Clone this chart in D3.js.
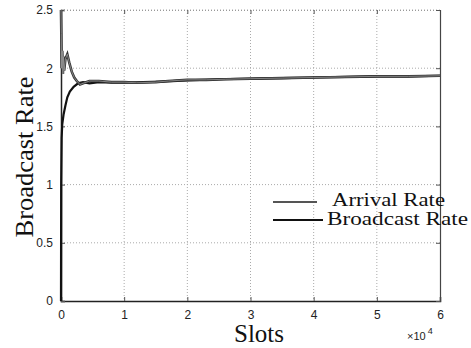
<!DOCTYPE html>
<html>
<head>
<meta charset="utf-8">
<script src="https://cdn.jsdelivr.net/npm/d3@7"></script>
<style>
  html, body { margin: 0; padding: 0; background: #fff; }
  svg { display: block; }
</style>
</head>
<body>
<svg id="chart" width="471" height="348"></svg>
<script>
// slots in units of 1e4
const arrivalX = [0, 0.005, 0.01, 0.02, 0.03, 0.04, 0.05, 0.07, 0.1, 0.13, 0.17, 0.21, 0.25, 0.3, 0.35, 0.45, 0.6, 0.8, 1.0, 1.2, 1.5, 1.7, 2.0, 2.3, 2.6, 3.0, 3.5, 4.0, 4.5, 5.0, 5.5, 6.0];
const arrivalY = [2.5, 2.3, 2.0, 2.15, 1.95, 2.1, 1.98, 2.08, 2.12, 2.05, 1.97, 1.92, 1.89, 1.86, 1.87, 1.89, 1.89, 1.88, 1.88, 1.875, 1.88, 1.89, 1.9, 1.9, 1.905, 1.91, 1.915, 1.92, 1.925, 1.93, 1.93, 1.935];
const broadcastX = [0, 0.003, 0.01, 0.02, 0.04, 0.07, 0.1, 0.14, 0.2, 0.27, 0.35, 0.45, 0.6, 0.8, 1.0, 1.3, 1.6, 2.0, 2.5, 3.0, 3.5, 4.0, 4.5, 5.0, 5.5, 6.0];
const broadcastY = [0, 1.0, 1.4, 1.52, 1.6, 1.68, 1.75, 1.8, 1.84, 1.87, 1.88, 1.87, 1.88, 1.875, 1.875, 1.88, 1.885, 1.895, 1.905, 1.91, 1.915, 1.92, 1.925, 1.93, 1.93, 1.935];
const xTicks = [0, 1, 2, 3, 4, 5, 6];
const yTicks = [0, 0.5, 1, 1.5, 2, 2.5];
const legendLabels = ['Arrival Rate', 'Broadcast Rate'];

const svg = d3.select('#chart');
const pLeft = 61, pRight = 440, pTop = 10, pBottom = 301;

const x = d3.scaleLinear().domain([0, 6]).range([pLeft, pRight]);
const y = d3.scaleLinear().domain([0, 2.5]).range([pBottom, pTop]);

// grid
const grid = svg.append('g').attr('stroke', '#aaa').attr('stroke-dasharray', '1,2').attr('stroke-width', 1);
xTicks.slice(1, -1).forEach(function(t) {
  grid.append('line').attr('x1', x(t)).attr('x2', x(t)).attr('y1', pTop).attr('y2', pBottom);
});
yTicks.slice(1).forEach(function(t) {
  grid.append('line').attr('x1', pLeft).attr('x2', pRight).attr('y1', y(t)).attr('y2', y(t));
});

// axes (ticks inward)
const fmt = d3.format('~g');
const tickFont = 'Liberation Sans, Arial, sans-serif';
const xAxis = svg.append('g').attr('transform', 'translate(0,' + pBottom + ')')
  .call(d3.axisBottom(x).tickValues(xTicks).tickSize(-4).tickPadding(9).tickFormat(fmt));
const yAxis = svg.append('g').attr('transform', 'translate(' + pLeft + ',0)')
  .call(d3.axisLeft(y).tickValues(yTicks).tickSize(-4).tickPadding(8).tickFormat(fmt));
const xTop = svg.append('g').attr('transform', 'translate(0,' + pTop + ')')
  .call(d3.axisTop(x).tickValues(xTicks).tickSize(-4).tickFormat(''));
const yRight = svg.append('g').attr('transform', 'translate(' + pRight + ',0)')
  .call(d3.axisRight(y).tickValues(yTicks).tickSize(-4).tickFormat(''));

[xAxis, yAxis, xTop, yRight].forEach(function(a) {
  a.selectAll('text').attr('font-family', tickFont).attr('font-size', 12).attr('fill', '#222');
  a.selectAll('.tick line').attr('stroke', '#555');
});
xAxis.select('.domain').attr('stroke', '#222').attr('stroke-width', 1.5);
yAxis.select('.domain').attr('stroke', '#222').attr('stroke-width', 1.5);
yRight.select('.domain').attr('stroke', '#444').attr('stroke-width', 1.2);
xTop.select('.domain').attr('stroke', '#999').attr('stroke-dasharray', '1,2');

// lines
const line = d3.line().x(function(d) { return x(d[0]); }).y(function(d) { return y(d[1]); });
const arrival = arrivalX.map(function(v, i) { return [v, arrivalY[i]]; });
const broadcast = broadcastX.map(function(v, i) { return [v, broadcastY[i]]; });

svg.append('path').datum(broadcast).attr('d', line)
  .attr('fill', 'none').attr('stroke', '#111').attr('stroke-width', 2.2);
svg.append('path').datum(arrival).attr('d', line)
  .attr('fill', 'none').attr('stroke', '#333').attr('stroke-width', 2.6);
svg.append('path').datum(arrival).attr('d', line)
  .attr('fill', 'none').attr('stroke', '#999').attr('stroke-width', 0.8);

// legend
const serif = 'Liberation Serif, Times New Roman, serif';
const lg = svg.append('g');
lg.append('line').attr('x1', 273).attr('x2', 317).attr('y1', 202).attr('y2', 202)
  .attr('stroke', '#555').attr('stroke-width', 2);
lg.append('line').attr('x1', 273).attr('x2', 323).attr('y1', 220).attr('y2', 220)
  .attr('stroke', '#111').attr('stroke-width', 2);
lg.append('text').attr('x', 332).attr('y', 206).text(legendLabels[0])
  .attr('font-family', serif).attr('font-size', 19).attr('fill', '#111')
  .attr('textLength', 113).attr('lengthAdjust', 'spacingAndGlyphs');
lg.append('text').attr('x', 327).attr('y', 225).text(legendLabels[1])
  .attr('font-family', serif).attr('font-size', 19).attr('fill', '#111')
  .attr('textLength', 141).attr('lengthAdjust', 'spacingAndGlyphs');

// axis titles
svg.append('text').attr('x', 259).attr('y', 342).attr('text-anchor', 'middle')
  .attr('font-family', serif).attr('font-size', 25).attr('fill', '#111').text('Slots');
svg.append('text').attr('transform', 'translate(33,157) rotate(-90)').attr('text-anchor', 'middle')
  .attr('font-family', serif).attr('font-size', 26).attr('fill', '#111')
  .attr('textLength', 161).attr('lengthAdjust', 'spacingAndGlyphs').text('Broadcast Rate');

// x multiplier
const mult = svg.append('text').attr('x', 407).attr('y', 340)
  .attr('font-family', tickFont).attr('font-size', 11).attr('fill', '#222');
mult.append('tspan').text('\u00d710');
mult.append('tspan').attr('dx', 2).attr('dy', -6).attr('font-size', 9).text('4');
</script>
</body>
</html>
